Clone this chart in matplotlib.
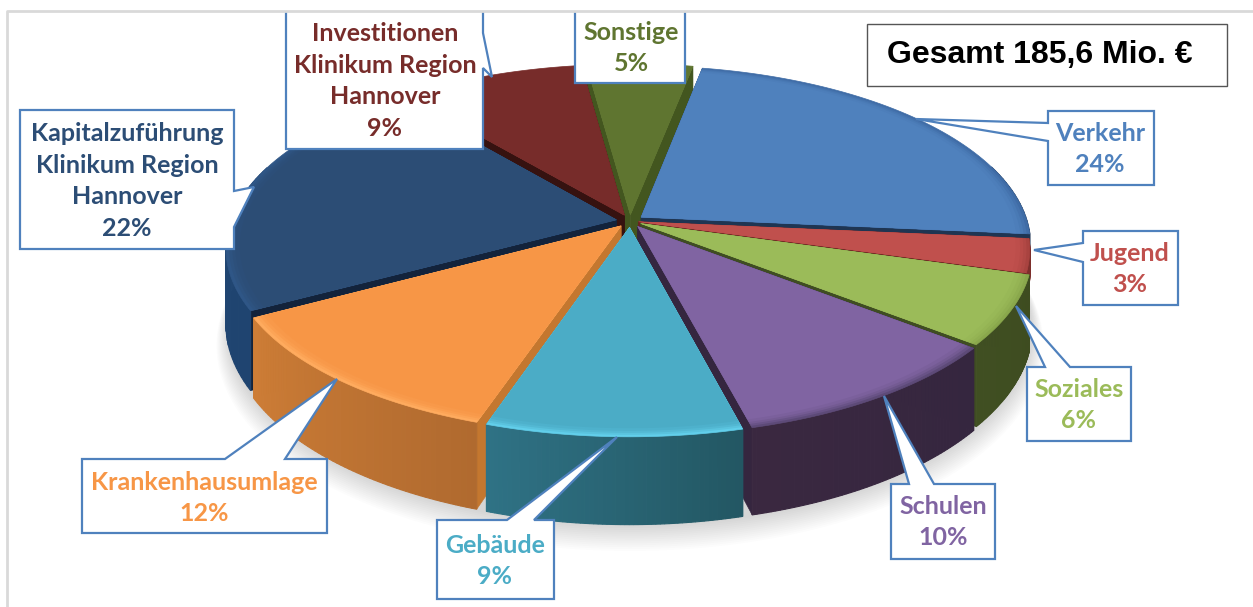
import numpy as np
import matplotlib
matplotlib.use("Agg")
import matplotlib.pyplot as plt

labels = ["Verkehr", "Jugend", "Soziales", "Schulen", "Gebäude", "Krankenhausumlage",
          "Kapitalzuführung\nKlinikum Region\nHannover", "Investitionen\nKlinikum Region\nHannover", "Sonstige"]
shares = [23.5, 3.0, 6.2, 10.3, 9.1, 11.9, 22.0, 8.9, 5.1]
total_text = "Gesamt 185,6 Mio. €"

top_colors = ["#4f81bd", "#c0504d", "#9bbb59", "#8064a2", "#4bacc6", "#f79646", "#2c4d75", "#772c2a", "#5f7530"]
wall_right = ["#1f3552", "#7d2f2c", "#3e4c20", "#35263f", "#235763", "#b06a2f", "#1f4470", "#3a1512", "#46592a"]
wall_left = ["#1f3552", "#7d2f2c", "#404f22", "#3a2840", "#2f7285", "#cd7d36", "#234874", "#3a1512", "#46592a"]
rim_colors = ["#3f6ca6", "#a94340", "#8aa84c", "#5d4a78", "#62cfeb", "#ffab5e", "#2f5686", "#772c2a", "#5f7530"]
split_colors = ["#1f3552", "#6b2220", "#3f4d22", "#35263f", "#2f7285", "#c4772f", "#13233b", "#361210", "#43561f"]

# callouts: pointer shapes in picture pixels
callouts = [
    [(1048, 111), (1154, 111), (1154, 185), (1048, 185), (1048, 141), (916, 119), (1048, 123)],
    [(1083, 231), (1178, 231), (1178, 305), (1083, 305), (1083, 262), (1034, 250), (1083, 243)],
    [(1027, 367), (1045, 367), (1016, 306), (1070, 367), (1131, 367), (1131, 441), (1027, 441)],
    [(891, 484), (909, 484), (884, 396), (934, 484), (995, 484), (995, 559), (891, 559)],
    [(437, 520), (507, 520), (617, 437), (534, 520), (554, 520), (554, 599), (437, 599)],
    [(82, 459), (225, 459), (337, 379), (285, 459), (327, 459), (327, 533), (82, 533)],
    [(20, 110), (234, 110), (234, 191), (254, 187), (234, 227), (234, 249), (20, 249)],
    [(286, 0), (483, 0), (483, 33), (492, 77), (483, 68), (483, 149), (286, 149)],
    [(575, 0), (685, 0), (685, 83), (575, 83)],
]
# centre of each text block, picture pixels
text_x = [1100, 1130, 1079, 943, 495, 204, 127, 385, 631]
text_y = [149, 269, 405, 522, 561, 498, 181, 81, 48]

cx, cy = 630, 221
rx, ry = 396, 180
persp = 0.156
depth = 74
# the two right hand slices only show a thin edge of their walls
wall_depth = [25, 25, 74, 74, 74, 74, 74, 74, 74]
radius = 0.975
explode = [0.035, 0.022, 0.03, 0.035, 0.035, 0.035, 0.035, 0.035, 0.035]
start = 10.8


def project(u, v, drop=0.0):
    w = 1 + persp * v
    return cx + rx * u / w, cy - ry * v / w + drop / w


def blend(a, b, t):
    ca = np.array(matplotlib.colors.to_rgb(a))
    cb = np.array(matplotlib.colors.to_rgb(b))
    return tuple(ca + (cb - ca) * t)


fig = plt.figure(figsize=(12.53, 6.07), dpi=100)
ax = fig.add_axes([0, 0, 1, 1])
ax.set_xlim(0, 1253)
ax.set_ylim(607, 0)
ax.axis("off")

# soft shadow under the pie
ring = np.radians(np.linspace(0, 360, 241))
for i in range(14, 0, -1):
    r = 1.0 + 0.0022 * i
    x, y = project(r * np.sin(ring), r * np.cos(ring), depth + 2 + i * 1.1)
    ax.fill(x, y, color="#000000", alpha=0.013, lw=0, zorder=1)

edges = start + np.cumsum([0] + shares) * 3.6
order = sorted(range(len(shares)), key=lambda k: -np.cos(np.radians((edges[k] + edges[k + 1]) / 2)))

z = 2
for k in order:
    a0, a1 = edges[k], edges[k + 1]
    mid = np.radians((a0 + a1) / 2)
    ox, oy = explode[k] * np.sin(mid), explode[k] * np.cos(mid)
    t = np.radians(np.linspace(a0, a1, 60))
    us = ox + radius * np.sin(t)
    vs = oy + radius * np.cos(t)
    d = wall_depth[k]

    # radial walls
    for ang in (t[0], t[-1]):
        eu, ev = ox + radius * np.sin(ang), oy + radius * np.cos(ang)
        p = [project(ox, oy), project(eu, ev), project(eu, ev, d), project(ox, oy, d)]
        ax.fill(*zip(*p), color=split_colors[k], lw=0.4, zorder=z)

    # outer wall, strip by strip so it can shade along the angle
    for j in range(len(t) - 1):
        shade = blend(wall_right[k], wall_left[k], j / (len(t) - 2))
        p = [project(us[j], vs[j]), project(us[j + 1], vs[j + 1]),
             project(us[j + 1], vs[j + 1], d), project(us[j], vs[j], d)]
        if min(np.cos(t[j]), np.cos(t[j + 1])) < 0.3:
            ax.fill(*zip(*p), color=shade, ec=shade, lw=0.8, zorder=z)

    # top face with a bevel band at the rim
    px, py = project(np.r_[ox, us], np.r_[oy, vs])
    ax.fill(px, py, color=rim_colors[k], lw=0.5, zorder=z)
    for frac, tone in ((0.992, 0.35), (0.984, 0.65), (0.976, 0.85), (0.965, 1.0)):
        us2 = ox + radius * frac * np.sin(t)
        vs2 = oy + radius * frac * np.cos(t)
        px, py = project(np.r_[ox, us2], np.r_[oy, vs2])
        ax.fill(px, py, color=blend(rim_colors[k], top_colors[k], tone), lw=0, zorder=z)
    z += 1

# callouts and labels
for k, poly in enumerate(callouts):
    ax.fill(*zip(*poly), facecolor="white", edgecolor="#4f81bd", lw=1.6, joinstyle="miter", zorder=50)
    text = labels[k] + "\n" + str(round(shares[k])) + "%"
    ax.text(text_x[k], text_y[k], text, color=top_colors[k], ha="center", va="center",
            family="Lato", weight="bold", fontsize=18, linespacing=1.46, zorder=51)

# total box
ax.fill([867, 1227, 1227, 867], [24, 24, 86, 86], facecolor="white", edgecolor="#555555", lw=1.0, zorder=50)
ax.text(887, 55, total_text, color="black", ha="left", va="center", family="Liberation Sans",
        weight="bold", fontsize=23, zorder=51)

# picture frame, hides the tops of the clipped callouts
ax.fill([0, 1253, 1253, 0], [0, 0, 11, 11], color="white", lw=0, zorder=60)
ax.plot([1253, 7, 7], [11, 11, 607], color="#d9d9d9", lw=2, zorder=61)

fig.savefig("out.png", dpi=100)
